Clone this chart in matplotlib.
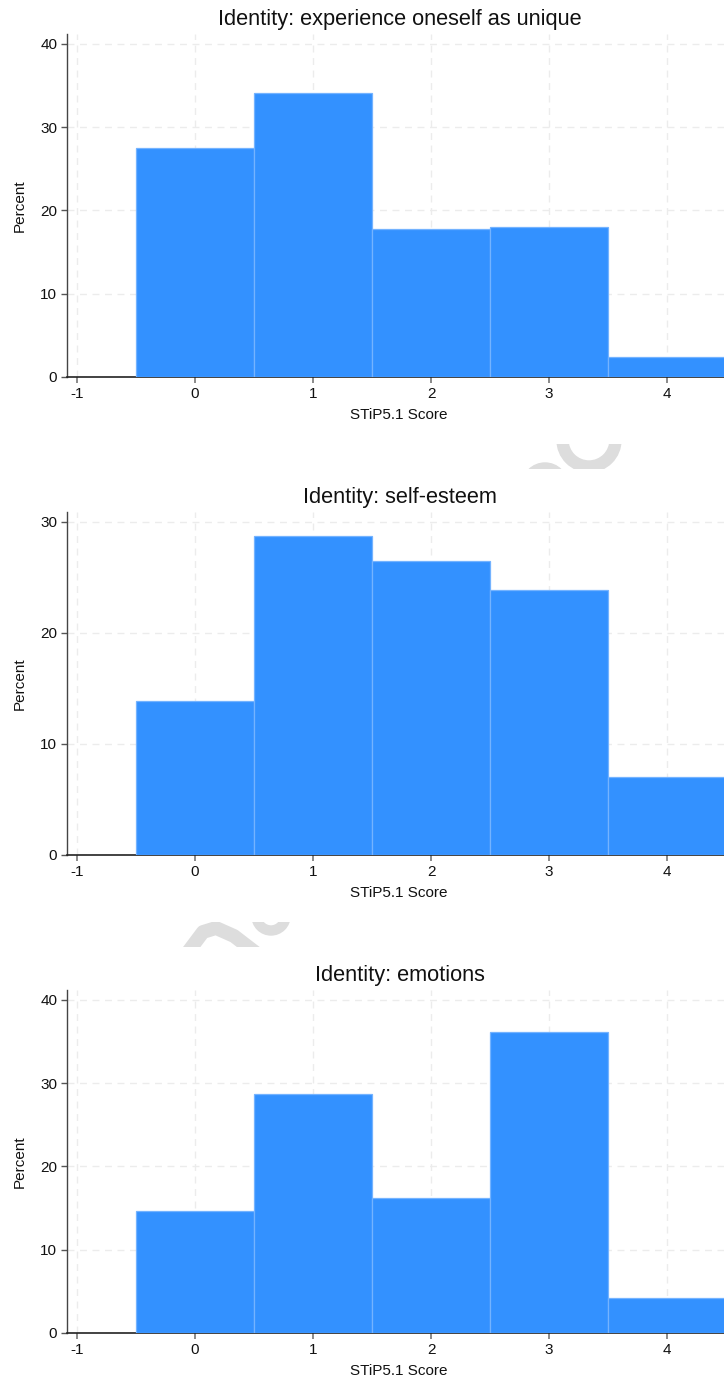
import matplotlib
matplotlib.use("Agg")
import matplotlib.pyplot as plt
from matplotlib.patches import Wedge, Rectangle
from matplotlib.lines import Line2D
from matplotlib.transforms import Affine2D

plt.rcParams['font.family'] = ['Liberation Sans', 'DejaVu Sans']

# ---- data ----
scores = [0, 1, 2, 3, 4]
titles = ["Identity: experience oneself as unique",
          "Identity: self-esteem",
          "Identity: emotions"]
unique_pct = [27.5, 34.1, 17.8, 18.0, 2.4]
self_esteem_pct = [13.9, 28.7, 26.5, 23.9, 7.0]
emotions_pct = [14.7, 28.7, 16.2, 36.1, 4.2]
y_ticks_a = [0, 10, 20, 30, 40]
y_ticks_b = [0, 10, 20, 30]
x_ticks = [-1, 0, 1, 2, 3, 4]
x_label = "STiP5.1 Score"
y_label = "Percent"

series = [unique_pct, self_esteem_pct, emotions_pct]
yticks_list = [y_ticks_a, y_ticks_b, y_ticks_a]
ymax_list = [41.2, 30.9, 41.2]

W, H = 724, 1382
fig = plt.figure(figsize=(W / 100, H / 100), dpi=100)
fig.patch.set_facecolor('white')

# pixel transform (origin top-left)
pix = Affine2D().scale(1 / 100, -1 / 100).translate(0, H / 100) + fig.dpi_scale_trans

BAR = '#3391ff'
EDGE = '#74b3ff'
GRID = '#ececec'
period = 478

for k in range(3):
    o = period * k
    top, bot = 34 + o, 377 + o
    left, right = 67, 724
    ax = fig.add_axes([left / W, 1 - bot / H, (right - left) / W, (bot - top) / H])
    ax.set_zorder(2)
    ax.bar(scores, series[k], width=1.0, align='center', color=BAR,
           edgecolor=EDGE, linewidth=0.9, zorder=3)
    ax.set_xlim(-1.085, 4.483)
    ax.set_ylim(0, ymax_list[k])
    ax.set_xticks(x_ticks)
    ax.set_xticklabels([str(t) for t in x_ticks])
    ax.set_yticks(yticks_list[k])
    ax.set_yticklabels([str(t) for t in yticks_list[k]])
    ax.grid(True, color=GRID, linestyle=(0, (5, 4)), linewidth=1.0, zorder=0)
    ax.set_axisbelow(True)
    for s in ['top', 'right']:
        ax.spines[s].set_visible(False)
    ax.spines['left'].set_color('#444444')
    ax.spines['left'].set_linewidth(1.0)
    ax.spines['bottom'].set_color('#222222')
    ax.spines['bottom'].set_linewidth(1.2)
    ax.tick_params(axis='x', length=4.5, width=1.2, color='#777777', labelsize=11,
                   pad=3, labelcolor='#111111')
    ax.tick_params(axis='y', length=4, width=1.0, color='#555555', labelsize=11,
                   pad=3, labelcolor='#111111')
    fig.text(400 / W, 1 - (20 + o) / H, titles[k], ha='center', va='center',
             fontsize=15.7, color='#111111')
    fig.text(399 / W, 1 - (415 + o) / H, x_label, ha='center', va='center',
             fontsize=11, color='#111111')
    fig.text(20 / W, 1 - ((top + bot) / 2) / H, y_label, ha='center', va='center',
             rotation=90, fontsize=11, color='#111111')

# ---- watermark fragments visible between panels ----
WM = '#dddddd'
band1 = Rectangle((0, 444), W, 25, transform=pix, visible=False)
band2 = Rectangle((0, 922), W, 25, transform=pix, visible=False)
fig.add_artist(band1)
fig.add_artist(band2)

shapes = [
    (Wedge((589, 440), 32, 0, 180, width=11, transform=pix, color=WM), band1),
    (Wedge((545, 486), 23, 180, 360, width=10, transform=pix, color=WM), band1),
    (Wedge((271, 916), 19, 0, 180, width=9, transform=pix, color=WM), band2),
]
for patch, band in shapes:
    fig.add_artist(patch)
    patch.set_clip_path(band)
    patch.set_zorder(0)

wave = Line2D([188, 203, 216, 234, 260], [952, 932, 928, 936, 956],
              transform=pix, color=WM, linewidth=10, solid_capstyle='butt',
              solid_joinstyle='round', zorder=0)
fig.add_artist(wave)
wave.set_clip_path(band2)

fig.savefig('out.png', dpi=100, facecolor='white')
